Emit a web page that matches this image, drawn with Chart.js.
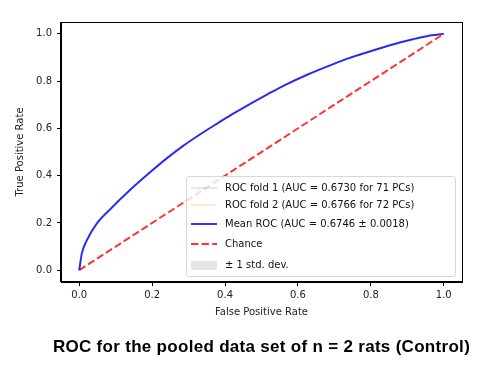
<!DOCTYPE html>
<html lang="en">
<head>
    <meta charset="UTF-8">
    <title>ROC pooled data (Control)</title>
    <script src="https://cdn.jsdelivr.net/npm/chart.js"></script>
    <style>
        body {
            margin: 0;
            padding: 0;
            background: white;
        }
        .wrap {
            position: relative;
            width: 493px;
            height: 373px;
        }
        #rocChart {
            position: absolute;
            left: 0;
            top: 0;
        }
        .legend {
            position: absolute;
            left: 186px;
            top: 176px;
            width: 268px;
            height: 99px;
            border: 1px solid #d8d8d8;
            border-radius: 3px;
            background: rgba(255, 255, 255, 0.8);
            font-family: 'DejaVu Sans', sans-serif;
            font-size: 10px;
            color: #111;
        }
        .legend .row {
            position: absolute;
            left: 0;
            height: 14px;
            line-height: 14px;
            white-space: nowrap;
        }
        .legend svg {
            position: absolute;
            left: 3px;
            top: 0;
        }
        .legend span {
            position: absolute;
            left: 38px;
            top: 0;
        }
        .caption {
            position: absolute;
            left: 30px;
            width: 463px;
            top: 338px;
            text-align: center;
            font-family: 'Liberation Sans', Arial, sans-serif;
            font-weight: bold;
            font-size: 17px;
            letter-spacing: 0.3px;
            line-height: 18px;
            color: #000;
        }
    </style>
</head>
<body>
    <div class="wrap">
        <canvas id="rocChart" width="493" height="373"></canvas>
        <div class="legend" id="legend"></div>
        <div class="caption">ROC for the pooled data set of n = 2 rats (Control)</div>
    </div>

    <script>
        // values
        const fpr = [0, 0.007, 0.021, 0.048, 0.085, 0.14, 0.195, 0.24, 0.286, 0.33, 0.377, 0.42, 0.468,
                     0.515, 0.56, 0.63, 0.697, 0.74, 0.788, 0.83, 0.879, 0.915, 0.953, 0.98, 1.0];
        const meanTpr = [0, 0.07, 0.127, 0.197, 0.258, 0.34, 0.415, 0.473, 0.527, 0.573, 0.619, 0.66, 0.703,
                         0.743, 0.78, 0.83, 0.872, 0.897, 0.921, 0.941, 0.963, 0.977, 0.99, 0.996, 1.0];
        const fold1Tpr = [0, 0.069, 0.126, 0.196, 0.257, 0.339, 0.414, 0.472, 0.526, 0.572, 0.618, 0.659, 0.702,
                          0.742, 0.779, 0.829, 0.871, 0.896, 0.92, 0.94, 0.962, 0.976, 0.989, 0.996, 1.0];
        const fold2Tpr = [0, 0.071, 0.128, 0.198, 0.259, 0.341, 0.416, 0.474, 0.528, 0.574, 0.62, 0.661, 0.704,
                          0.744, 0.781, 0.831, 0.873, 0.898, 0.922, 0.942, 0.964, 0.978, 0.991, 0.997, 1.0];
        const stdUpper = [0, 0.071, 0.128, 0.198, 0.259, 0.341, 0.416, 0.474, 0.528, 0.574, 0.62, 0.661, 0.704,
                          0.744, 0.781, 0.831, 0.873, 0.898, 0.922, 0.942, 0.964, 0.978, 0.991, 0.997, 1.0];
        const stdLower = [0, 0.069, 0.126, 0.196, 0.257, 0.339, 0.414, 0.472, 0.526, 0.572, 0.618, 0.659, 0.702,
                          0.742, 0.779, 0.829, 0.871, 0.896, 0.92, 0.94, 0.962, 0.976, 0.989, 0.995, 1.0];
        const chanceX = [0, 1];
        const chanceY = [0, 1];
        const tickVals = [0, 0.2, 0.4, 0.6, 0.8, 1.0];

        const labels = {
            fold1: 'ROC fold 1 (AUC = 0.6730 for 71 PCs)',
            fold2: 'ROC fold 2 (AUC = 0.6766 for 72 PCs)',
            mean: 'Mean ROC (AUC = 0.6746 \u00b1 0.0018)',
            chance: 'Chance',
            std: '\u00b1 1 std. dev.'
        };

        const pts = (xs, ys) => xs.map((x, i) => ({ x: x, y: ys[i] }));

        // draws the top and right spines too
        const framePlugin = {
            id: 'frame',
            afterDraw(chart) {
                const a = chart.chartArea;
                const c = chart.ctx;
                c.save();
                c.strokeStyle = '#000';
                c.lineWidth = 1;
                c.strokeRect(Math.round(a.left) - 0.5, Math.round(a.top) + 0.5,
                             Math.round(a.right - a.left) + 1, Math.round(a.bottom - a.top) - 1);
                c.restore();
            }
        };

        const font = { family: "'DejaVu Sans', sans-serif", size: 10 };

        new Chart(document.getElementById('rocChart'), {
            type: 'line',
            data: {
                datasets: [
                    {
                        label: labels.fold1,
                        data: pts(fpr, fold1Tpr),
                        borderColor: 'rgba(31, 119, 180, 0.3)',
                        borderWidth: 1,
                        pointRadius: 0,
                        cubicInterpolationMode: 'monotone',
                        order: 5
                    },
                    {
                        label: labels.fold2,
                        data: pts(fpr, fold2Tpr),
                        borderColor: 'rgba(255, 127, 14, 0.3)',
                        borderWidth: 1,
                        pointRadius: 0,
                        cubicInterpolationMode: 'monotone',
                        order: 4
                    },
                    {
                        label: labels.chance,
                        data: pts(chanceX, chanceY),
                        borderColor: 'rgba(255, 0, 0, 0.8)',
                        borderWidth: 2,
                        borderDash: [7.4, 3.2],
                        pointRadius: 0,
                        order: 2
                    },
                    {
                        label: labels.mean,
                        data: pts(fpr, meanTpr),
                        borderColor: 'rgba(0, 0, 255, 0.8)',
                        borderWidth: 2,
                        pointRadius: 0,
                        cubicInterpolationMode: 'monotone',
                        order: 1
                    },
                    {
                        label: labels.std,
                        data: pts(fpr, stdUpper),
                        borderWidth: 0,
                        borderColor: 'rgba(0,0,0,0)',
                        backgroundColor: 'rgba(128, 128, 128, 0.2)',
                        pointRadius: 0,
                        cubicInterpolationMode: 'monotone',
                        fill: '+1',
                        order: 3
                    },
                    {
                        label: 'lower',
                        data: pts(fpr, stdLower),
                        borderWidth: 0,
                        borderColor: 'rgba(0,0,0,0)',
                        pointRadius: 0,
                        cubicInterpolationMode: 'monotone',
                        fill: false,
                        order: 3
                    }
                ]
            },
            options: {
                responsive: false,
                animation: false,
                devicePixelRatio: 1,
                layout: {
                    padding: { left: 0, top: 22, right: 31, bottom: 0 }
                },
                plugins: {
                    legend: { display: false },
                    tooltip: { enabled: false }
                },
                scales: {
                    x: {
                        type: 'linear',
                        min: -0.05,
                        max: 1.05,
                        afterBuildTicks: s => { s.ticks = tickVals.map(v => ({ value: v })); },
                        afterFit: s => { s.height = 91; },
                        ticks: {
                            font: font,
                            color: '#222',
                            padding: 3,
                            maxRotation: 0,
                            callback: v => Number(v).toFixed(1)
                        },
                        grid: {
                            drawOnChartArea: false,
                            drawTicks: true,
                            tickLength: 4,
                            tickColor: '#000'
                        },
                        border: { display: true, color: '#000', width: 1 },
                        title: {
                            display: true,
                            text: 'False Positive Rate',
                            font: font,
                            color: '#222',
                            padding: { top: 0, bottom: 55 }
                        }
                    },
                    y: {
                        type: 'linear',
                        min: -0.05,
                        max: 1.05,
                        afterBuildTicks: s => { s.ticks = tickVals.map(v => ({ value: v })); },
                        afterFit: s => { s.width = 61; },
                        ticks: {
                            font: font,
                            color: '#222',
                            padding: 5,
                            callback: v => Number(v).toFixed(1)
                        },
                        grid: {
                            drawOnChartArea: false,
                            drawTicks: true,
                            tickLength: 4,
                            tickColor: '#000'
                        },
                        border: { display: true, color: '#000', width: 1 },
                        title: {
                            display: true,
                            text: 'True Positive Rate',
                            font: font,
                            color: '#222',
                            padding: { top: 14, bottom: 0 }
                        }
                    }
                }
            },
            plugins: [framePlugin]
        });

        // legend inside the plot, bottom right
        const legendRows = [
            { text: labels.fold1, top: 4, kind: 'line', color: 'rgba(31, 119, 180, 0.3)', width: 1 },
            { text: labels.fold2, top: 21, kind: 'line', color: 'rgba(255, 127, 14, 0.3)', width: 1 },
            { text: labels.mean, top: 40, kind: 'line', color: 'rgba(0, 0, 255, 0.8)', width: 2 },
            { text: labels.chance, top: 60, kind: 'dash', color: 'rgba(255, 0, 0, 0.8)', width: 2 },
            { text: labels.std, top: 81, kind: 'patch', color: 'rgba(128, 128, 128, 0.2)' }
        ];
        const legendEl = document.getElementById('legend');
        legendRows.forEach(r => {
            let sample;
            if (r.kind === 'patch') {
                sample = '<rect x="1" y="3" width="26" height="9" fill="' + r.color + '"/>';
            } else {
                const dash = r.kind === 'dash' ? ' stroke-dasharray="7.4 3.2"' : '';
                sample = '<line x1="1" y1="7" x2="27" y2="7" stroke="' + r.color + '" stroke-width="' + r.width + '"' + dash + '/>';
            }
            const row = document.createElement('div');
            row.className = 'row';
            row.style.top = r.top + 'px';
            row.innerHTML = '<svg width="30" height="14">' + sample + '</svg><span>' + r.text + '</span>';
            legendEl.appendChild(row);
        });
    </script>
</body>
</html>
